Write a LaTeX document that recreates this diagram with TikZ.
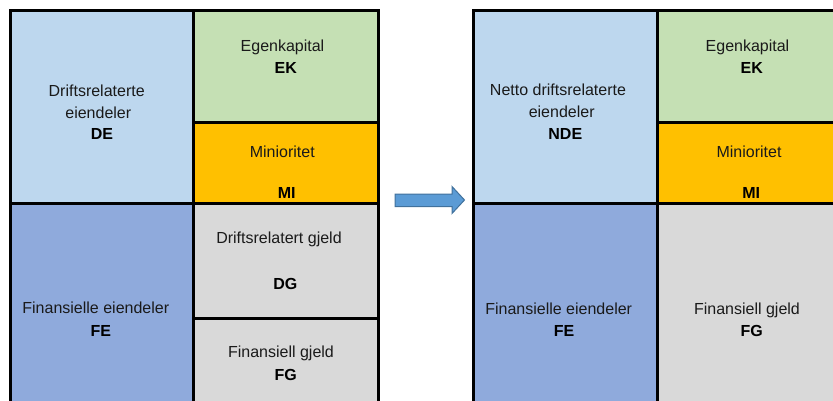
\documentclass[tikz,border=0pt]{standalone}
\usepackage{fontspec}
\setmainfont{Liberation Sans}
\definecolor{deblue}{HTML}{BDD7EE}
\definecolor{ekgreen}{HTML}{C5E0B4}
\definecolor{miorange}{HTML}{FFC000}
\definecolor{feblue}{HTML}{8FAADC}
\definecolor{dggrey}{HTML}{D9D9D9}
\definecolor{arrowfill}{HTML}{5B9BD5}
\definecolor{arrowline}{HTML}{41719C}
\definecolor{txt}{HTML}{1A1A1A}
\tikzset{
  cell/.style={draw=black, line width=3pt, rectangle, inner sep=0pt, outer sep=0pt, anchor=north west},
  lbl/.style={anchor=base, inner sep=0pt, text=txt, font=\fontsize{16}{20}\selectfont},
  code/.style={lbl, font=\fontsize{16}{20}\selectfont\bfseries, text=black},
}
\begin{document}
\begin{tikzpicture}[x=1pt, y=-1pt]
\useasboundingbox (0,0) rectangle (833,401);
\clip (0,0) rectangle (833,401);

% ---- balance before restructuring ----
\node[cell, fill=deblue,   minimum width=183.5pt, minimum height=192pt] (de) at (10,11) {};
\node[cell, fill=ekgreen,  minimum width=184.5pt, minimum height=112pt] (ek) at (193.5,11) {};
\node[cell, fill=miorange, minimum width=184.5pt, minimum height=80pt]  (mi) at (193.5,123) {};
\node[cell, fill=feblue,   minimum width=183.5pt, minimum height=210pt] (fe) at (10,203) {};
\node[cell, fill=dggrey,   minimum width=184.5pt, minimum height=115pt] (dg) at (193.5,203) {};
\node[cell, fill=dggrey,   minimum width=184.5pt, minimum height=95pt]  (fg) at (193.5,318) {};

\node[lbl]  (de1) at (96.7,97)   {Driftsrelaterte};
\node[lbl]  (de2) at (98.3,118.5){eiendeler};
\node[code] (de3) at (102,140)   {DE};
\node[lbl]  (ek1) at (282.5,51.7){Egenkapital};
\node[code] (ek2) at (285.8,74)  {EK};
\node[lbl]  (mi1) at (282.3,157.3){Minioritet};
\node[code] (mi2) at (286.7,198) {MI};
\node[lbl]  (fe1) at (95.8,313)  {Finansielle eiendeler};
\node[code] (fe2) at (100.8,336) {FE};
\node[lbl]  (dg1) at (279,243)   {Driftsrelatert gjeld};
\node[code] (dg2) at (285.3,289) {DG};
\node[lbl]  (fg1) at (281,357.7) {Finansiell gjeld};
\node[code] (fg2) at (285.8,380.7){FG};

% ---- block arrow ----
\filldraw[fill=arrowfill, draw=arrowline, line width=1pt]
  (395,194) -- (452,194) -- (452,186.5) -- (464.5,200) -- (452,213.5)
  -- (452,206.5) -- (395,206.5) -- cycle;

% ---- balance after restructuring ----
\node[cell, fill=deblue,   minimum width=183.5pt, minimum height=192pt] (nde) at (473.5,11) {};
\node[cell, fill=ekgreen,  minimum width=190pt,   minimum height=112pt] (ekb) at (657,11) {};
\node[cell, fill=miorange, minimum width=190pt,   minimum height=80pt]  (mib) at (657,123) {};
\node[cell, fill=feblue,   minimum width=183.5pt, minimum height=210pt] (feb) at (473.5,203) {};
\node[cell, fill=dggrey,   minimum width=190pt,   minimum height=210pt] (fgb) at (657,203) {};

\node[lbl]  (nde1) at (558,96)     {Netto driftsrelaterte};
\node[lbl]  (nde2) at (561.7,118)  {eiendeler};
\node[code] (nde3) at (565.3,140)  {NDE};
\node[lbl]  (ekb1) at (747.5,51.7) {Egenkapital};
\node[code] (ekb2) at (751.7,74)   {EK};
\node[lbl]  (mib1) at (749,157.3)  {Minioritet};
\node[code] (mib2) at (751.3,198)  {MI};
\node[lbl]  (feb1) at (558.7,314)  {Finansielle eiendeler};
\node[code] (feb2) at (564,336)    {FE};
\node[lbl]  (fgb1) at (747,314)    {Finansiell gjeld};
\node[code] (fgb2) at (751.7,336)  {FG};
\end{tikzpicture}
\end{document}
